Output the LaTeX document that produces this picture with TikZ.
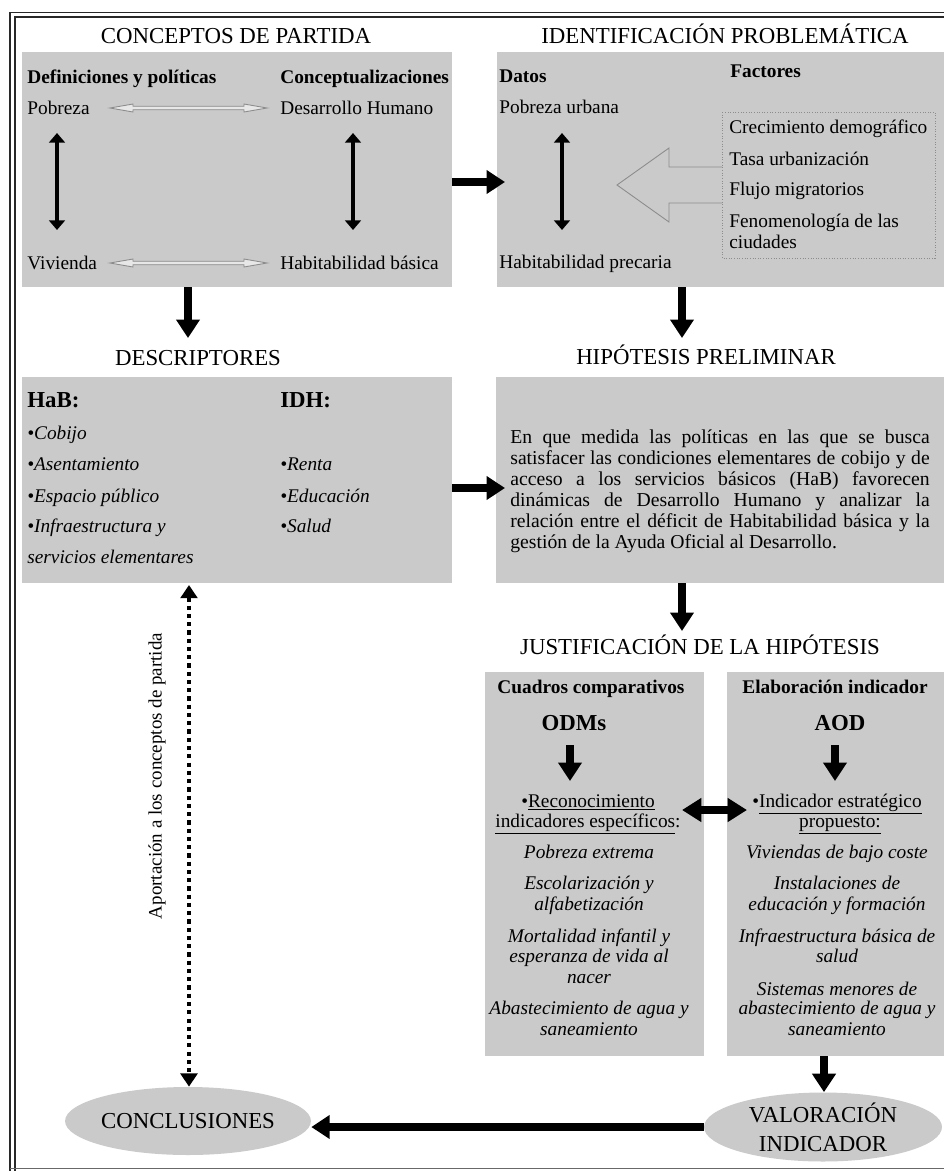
\documentclass[tikz,border=0pt]{standalone}
\usepackage{fontspec}
\setmainfont{Liberation Serif}
\usetikzlibrary{arrows.meta,shapes.geometric,calc,fit}
\definecolor{boxgray}{RGB}{202,202,202}
\definecolor{outlinegray}{RGB}{140,140,140}
\definecolor{framecol}{RGB}{40,40,40}
\newcommand\jl[1]{\makebox[238.7pt][s]{#1}}
\tikzset{
  panel/.style={fill=boxgray, draw=none, inner sep=0pt},
  ttl/.style={font=\fontsize{13}{15}\selectfont, inner sep=0pt, anchor=base},
  txt/.style={font=\fontsize{11}{13}\selectfont, inner sep=0pt, anchor=base west},
  btxt/.style={font=\fontsize{11}{13}\selectfont\bfseries, inner sep=0pt, anchor=base west},
  bigb/.style={font=\fontsize{13}{15}\selectfont\bfseries, inner sep=0pt, anchor=base west},
  itxt/.style={font=\fontsize{11}{13}\selectfont\itshape, inner sep=0pt, anchor=base west},
  ctxt/.style={font=\fontsize{11}{13}\selectfont, inner sep=0pt, anchor=base},
  cbtxt/.style={font=\fontsize{11}{13}\selectfont\bfseries, inner sep=0pt, anchor=base},
  cbig/.style={font=\fontsize{13}{15}\selectfont\bfseries, inner sep=0pt, anchor=base},
  citxt/.style={font=\fontsize{11}{13}\selectfont\itshape, inner sep=0pt, anchor=base},
  fatarrow/.style={line width=4.5pt, -{Triangle[length=10.5pt,width=13pt]}},
  fatdbl/.style={line width=4pt, {Triangle[length=11pt,width=13pt]}-{Triangle[length=11pt,width=13pt]}},
  medarrow/.style={line width=2pt, {Triangle[length=5.5pt,width=9pt]}-{Triangle[length=5.5pt,width=9pt]}},
  dotarrow/.style={line width=2.4pt, dash pattern=on 2.4pt off 2.3pt, {Triangle[length=7.5pt,width=9.5pt]}-{Triangle[length=7.5pt,width=9.5pt]}},
  hollowline/.style={draw=outlinegray, line width=0.5pt},
  oval/.style={ellipse, fill=boxgray, inner sep=0pt, font=\fontsize{13}{16.4}\selectfont, align=center},
  frameline/.style={draw=framecol, line width=0.9pt},
  pics/hollowdbl/.style={code={
    \draw[hollowline, fill=white!55!boxgray] (-78.5,0) -- (-55.5,-4) -- (-55.5,-1.7) -- (55.5,-1.7) -- (55.5,-4) -- (78.5,0) -- (55.5,4) -- (55.5,1.7) -- (-55.5,1.7) -- (-55.5,4) -- cycle;
  }}
}
\begin{document}
\begin{tikzpicture}[x=0.02cm,y=-0.02cm]
\useasboundingbox (0,0) rectangle (944,1171);
\fill[white] (0,0) rectangle (944,1171);

% frame
\draw[frameline] (10,1175) -- (10,12.5) -- (960,12.5);
\draw[frameline] (15,1175) -- (15,17) -- (960,17);
\draw[draw=framecol!70, line width=0.6pt] (10,1168.5) -- (960,1168.5);

% panels
\node[panel, fit={(22,52) (452,287)}] (p1) {};
\node[panel, fit={(497,52) (944,287)}] (p2) {};
\node[panel, fit={(22,377) (452,583)}] (p3) {};
\node[panel, fit={(496,377) (944,583)}] (p4) {};
\node[panel, fit={(485,672) (704,1056)}] (p5a) {};
\node[panel, fit={(727,672) (944,1056)}] (p5b) {};

% titles
\node[ttl] (t1) at (236,43) {CONCEPTOS DE PARTIDA};
\node[ttl] (t2) at (725,43) {IDENTIFICACIÓN PROBLEMÁTICA};
\node[ttl] (t3) at (198,365) {DESCRIPTORES};
\node[ttl] (t4) at (706,364) {HIPÓTESIS PRELIMINAR};
\node[ttl] (t5) at (700,654) {JUSTIFICACIÓN DE LA HIPÓTESIS};

% box 1
\node[btxt] (defp) at (27,83) {Definiciones y políticas};
\node[btxt] (conc1) at (280,83) {Conceptualizaciones};
\node[txt] (pob) at (27,114) {Pobreza};
\node[txt] (desh) at (280,114) {Desarrollo Humano};
\node[txt] (viv) at (27,269) {Vivienda};
\node[txt] (habb) at (280,269) {Habitabilidad básica};
\pic at (188.5,108) {hollowdbl};
\pic at (188.5,263) {hollowdbl};
\coordinate (v1a) at (57,133); \coordinate (v1b) at (57,230);
\coordinate (v2a) at (353,133); \coordinate (v2b) at (353,230);
\draw[medarrow] (v1a) -- (v1b);
\draw[medarrow] (v2a) -- (v2b);

% box 2
\node[btxt] (datos) at (499,82) {Datos};
\node[btxt] (factores) at (730,77) {Factores};
\node[txt] (pobu) at (499,113) {Pobreza urbana};
\node[txt] (habp) at (499,268) {Habitabilidad precaria};
\coordinate (v3a) at (562,133); \coordinate (v3b) at (562,230);
\draw[medarrow] (v3a) -- (v3b);
\coordinate (f1) at (722,112); \coordinate (f2) at (935,258);
\draw[draw=outlinegray, line width=0.5pt, densely dotted] (f1) rectangle (f2);
\node[txt] (fa1) at (729,133) {Crecimiento demográfico};
\node[txt] (fa2) at (729,165) {Tasa urbanización};
\node[txt] (fa3) at (729,195) {Flujo migratorios};
\node[txt] (fa4) at (729,227) {Fenomenología de las};
\node[txt] (fa5) at (729,248) {ciudades};
\draw[hollowline] (f1 |- 0,167) -- (669,167) -- (669,148) -- (617,185) -- (669,222) -- (669,203) -- (f1 |- 0,203);

% box 3
\node[bigb] (hab) at (27,407) {HaB:};
\node[bigb] (idh) at (280,407) {IDH:};
\node[itxt] (d1) at (27,439) {•Cobijo};
\node[itxt] (d2) at (27,470) {•Asentamiento};
\node[itxt] (d3) at (27,502) {•Espacio público};
\node[itxt] (d4) at (27,532) {•Infraestructura y};
\node[itxt] (d5) at (27,563) {servicios elementares};
\node[itxt] (i1) at (280,470) {•Renta};
\node[itxt] (i2) at (280,502) {•Educación};
\node[itxt] (i3) at (280,532) {•Salud};

% box 4
\node[anchor=north west, inner sep=0pt, align=left, font=\fontsize{11.2}{12}\selectfont] (hyp) at (510,429.5) {%
\jl{En que medida las políticas en las que se busca}\\
\jl{satisfacer las condiciones elementares de cobijo y de}\\
\jl{acceso a los servicios básicos (HaB) favorecen}\\
\jl{dinámicas de Desarrollo Humano y analizar la}\\
\jl{relación entre el déficit de Habitabilidad básica y la}\\
gestión de la Ayuda Oficial al Desarrollo.};

% box 5a
\node[cbtxt] (cuad) at (591,693) {Cuadros comparativos};
\node[cbig] (odm) at (574,730) {ODMs};
\node[ctxt] (rec1) at (588,807) {•\underline{Reconocimiento}};
\node[ctxt] (rec2) at (588,827) {\underline{indicadores específicos}:};
\node[citxt] (l1) at (589,858) {Pobreza extrema};
\node[citxt] (l2) at (589,889) {Escolarización y};
\node[citxt] (l3) at (589,910) {alfabetización};
\node[citxt] (l4) at (589,942) {Mortalidad infantil y};
\node[citxt] (l5) at (589,962) {esperanza de vida al};
\node[citxt] (l6) at (589,983) {nacer};
\node[citxt] (l7) at (589,1014) {Abastecimiento de agua y};
\node[citxt] (l8) at (589,1035) {saneamiento};

% box 5b
\node[cbtxt] (elab) at (835,693) {Elaboración indicador};
\node[cbig] (aod) at (840,730) {AOD};
\node[ctxt] (ind1) at (837,807) {•\underline{Indicador estratégico}};
\node[ctxt] (ind2) at (840,827) {\underline{propuesto:}};
\node[citxt] (r1) at (837,858) {Viviendas de bajo coste};
\node[citxt] (r2) at (837,889) {Instalaciones de};
\node[citxt] (r3) at (837,910) {educación y formación};
\node[citxt] (r4) at (837,942) {Infraestructura básica de};
\node[citxt] (r5) at (837,962) {salud};
\node[citxt] (r6) at (837,995) {Sistemas menores de};
\node[citxt] (r7) at (837,1014) {abastecimiento de agua y};
\node[citxt] (r8) at (837,1035) {saneamiento};

% ellipses
\node[oval, minimum width=4.8cm, minimum height=1.36cm] (concl) at (188,1121) {CONCLUSIONES};
\node[oval, minimum width=4.76cm, minimum height=1.38cm] (valor) at (823,1127) {VALORACIÓN\\INDICADOR};

% rotated label
\node[rotate=90, inner sep=0pt, font=\fontsize{10.8}{12}\selectfont] (apor) at (157,776) {Aportación a los conceptos de partida};

% connectors
\coordinate (e12) at (505,182);
\draw[fatarrow] (p1.east |- e12) -- (e12);
\coordinate (e13) at (188,338);
\draw[fatarrow] (p1.south -| e13) -- (e13);
\coordinate (e24) at (682,338);
\draw[fatarrow] (p2.south -| e24) -- (e24);
\coordinate (e34) at (505,488);
\draw[fatarrow] (p3.east |- e34) -- (e34);
\coordinate (e45) at (682,631);
\draw[fatarrow] (p4.south -| e45) -- (e45);
\coordinate (oa) at (570,745); \coordinate (ob) at (570,781);
\draw[fatarrow] (oa) -- (ob);
\coordinate (aa) at (835,745); \coordinate (ab) at (835,781);
\draw[fatarrow] (aa) -- (ab);
\coordinate (da) at (682,810); \coordinate (db) at (747,810);
\draw[fatdbl] (da) -- (db);
\coordinate (ev) at (824,1056);
\draw[fatarrow] (ev) -- (valor.north -| ev);
\draw[fatarrow] (valor.west |- 0,1127) -- (concl.east |- 0,1127);
\coordinate (dt) at (189,585);
\draw[dotarrow] (dt) -- (concl.north -| dt);
\end{tikzpicture}
\end{document}
